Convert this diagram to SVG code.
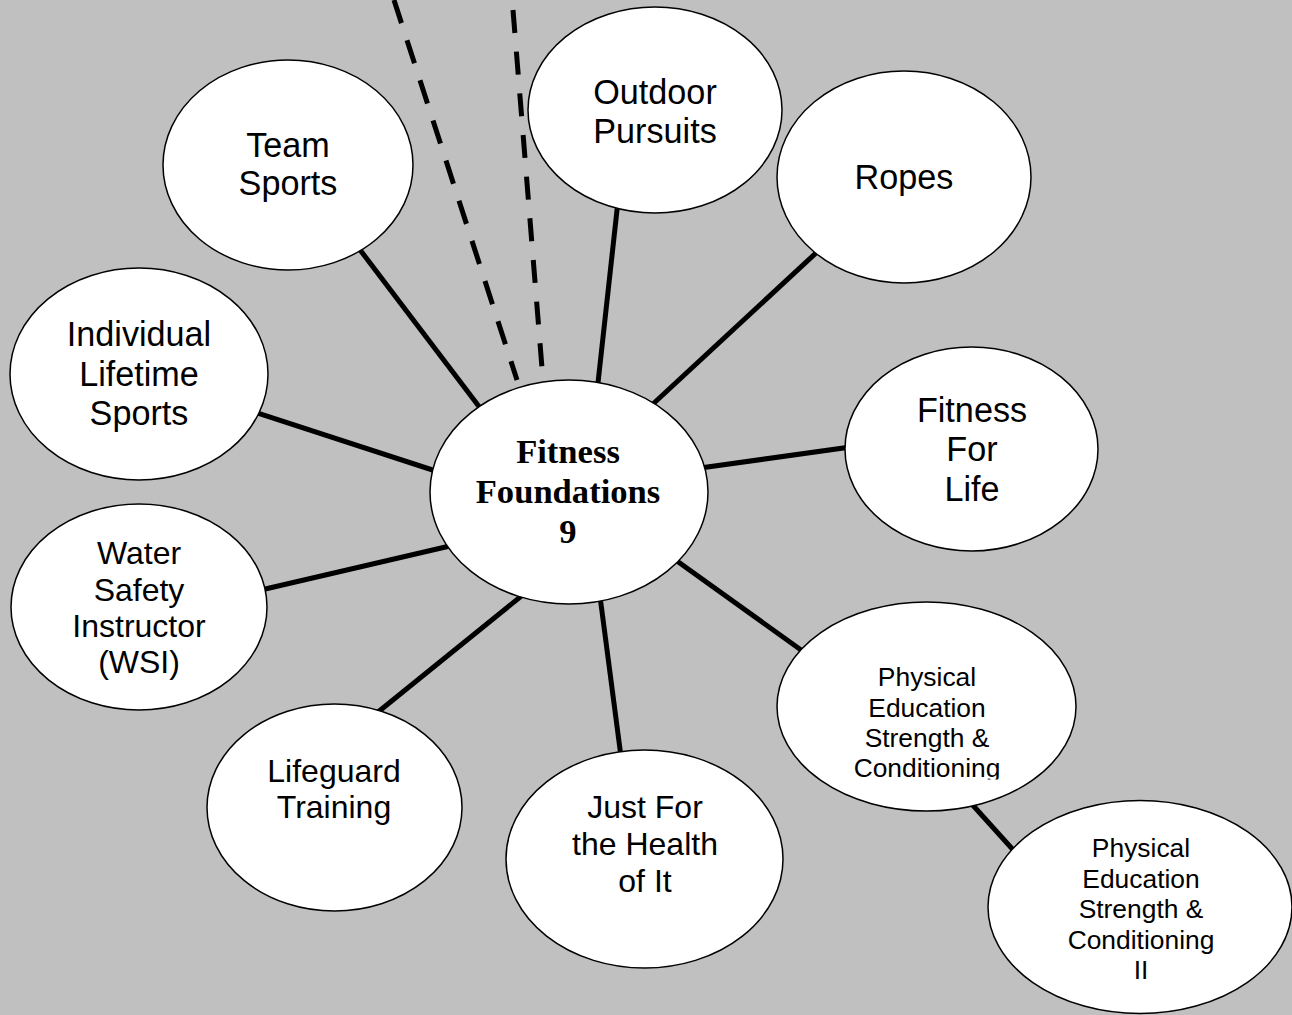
<svg xmlns="http://www.w3.org/2000/svg" width="1292" height="1015" viewBox="0 0 1292 1015">
<defs>
<style>
.bg{fill:#c0c0c0}
.n{fill:#fff;stroke:#000;stroke-width:1.5}
.c{stroke:#000;stroke-width:5;fill:none}
.d{stroke:#000;stroke-width:5;fill:none}
.t{font-family:"Liberation Sans",Arial,sans-serif;text-anchor:middle;fill:#000}
.L{font-size:34.2px}
.M{font-size:32px}
.S{font-size:26.4px}
.ctr{font-family:"Liberation Serif","Times New Roman",serif;font-weight:bold;font-size:34.6px;text-anchor:middle;fill:#000}
</style>
<clipPath id="clipPE"><rect x="770" y="600" width="320" height="179.5"/></clipPath>
</defs>
<rect class="bg" x="0" y="0" width="1292" height="1015"/>
<g id="connectors">
<line class="d" x1="394" y1="0" x2="517" y2="380" stroke-dasharray="24.3 17.9"/>
<line class="d" x1="513" y1="10" x2="542" y2="368" stroke-dasharray="23 18.8"/>
<line class="c" x1="348" y1="234" x2="490" y2="421"/>
<line class="c" x1="619" y1="192" x2="596" y2="401"/>
<line class="c" x1="830" y1="240" x2="640" y2="416"/>
<line class="c" x1="239" y1="407" x2="451" y2="476"/>
<line class="c" x1="686" y1="470" x2="865" y2="445"/>
<line class="c" x1="248" y1="593" x2="467" y2="542"/>
<line class="c" x1="362" y1="725" x2="535" y2="585"/>
<line class="c" x1="598" y1="581" x2="623" y2="772"/>
<line class="c" x1="663" y1="551" x2="815" y2="660"/>
<line class="c" x1="960" y1="791" x2="1024" y2="862"/>
</g>
<g id="team-sports">
<ellipse class="n" cx="288" cy="165" rx="125" ry="105"/>
<text class="t L" x="288" y="157">Team</text>
<text class="t L" x="288" y="195">Sports</text>
</g>
<g id="outdoor-pursuits">
<ellipse class="n" cx="655" cy="110" rx="127" ry="103"/>
<text class="t L" x="655" y="104">Outdoor</text>
<text class="t L" x="655" y="143">Pursuits</text>
</g>
<g id="ropes">
<ellipse class="n" cx="904" cy="177" rx="127" ry="106"/>
<text class="t L" x="904" y="189">Ropes</text>
</g>
<g id="individual-lifetime-sports">
<ellipse class="n" cx="139" cy="374" rx="129" ry="106"/>
<text class="t L" x="139" y="346">Individual</text>
<text class="t L" x="139" y="386">Lifetime</text>
<text class="t L" x="139" y="425">Sports</text>
</g>
<g id="fitness-for-life">
<ellipse class="n" cx="971.5" cy="449" rx="126.5" ry="102"/>
<text class="t L" x="972" y="422">Fitness</text>
<text class="t L" x="972" y="461">For</text>
<text class="t L" x="972" y="501">Life</text>
</g>
<g id="water-safety-instructor">
<ellipse class="n" cx="139" cy="607" rx="128" ry="103"/>
<text class="t M" x="139" y="564">Water</text>
<text class="t M" x="139" y="601">Safety</text>
<text class="t M" x="139" y="637">Instructor</text>
<text class="t M" x="139" y="673">(WSI)</text>
</g>
<g id="lifeguard-training">
<ellipse class="n" cx="334.5" cy="807.5" rx="127.5" ry="103.5"/>
<text class="t M" x="334" y="782">Lifeguard</text>
<text class="t M" x="334" y="818">Training</text>
</g>
<g id="just-for-the-health">
<ellipse class="n" cx="644.5" cy="859" rx="138.5" ry="109"/>
<text class="t M" x="645" y="818">Just For</text>
<text class="t M" x="645" y="855">the Health</text>
<text class="t M" x="645" y="892">of It</text>
</g>
<g id="pe-strength-conditioning">
<ellipse class="n" cx="926.5" cy="706.5" rx="149.5" ry="104.5"/>
<g clip-path="url(#clipPE)">
<text class="t S" x="927" y="686">Physical</text>
<text class="t S" x="927" y="717">Education</text>
<text class="t S" x="927" y="747">Strength &amp;</text>
<text class="t S" x="927" y="777">Conditioning</text>
</g>
</g>
<g id="pe-strength-conditioning-2">
<ellipse class="n" cx="1140" cy="907" rx="152" ry="106.5"/>
<text class="t S" x="1141" y="857">Physical</text>
<text class="t S" x="1141" y="888">Education</text>
<text class="t S" x="1141" y="918">Strength &amp;</text>
<text class="t S" x="1141" y="949">Conditioning</text>
<text class="t S" x="1141" y="979">II</text>
</g>
<g id="fitness-foundations-9">
<ellipse class="n" cx="569" cy="492" rx="139" ry="112"/>
<text class="ctr" x="568" y="463">Fitness</text>
<text class="ctr" x="568" y="503">Foundations</text>
<text class="ctr" x="568" y="543">9</text>
</g>
</svg>
